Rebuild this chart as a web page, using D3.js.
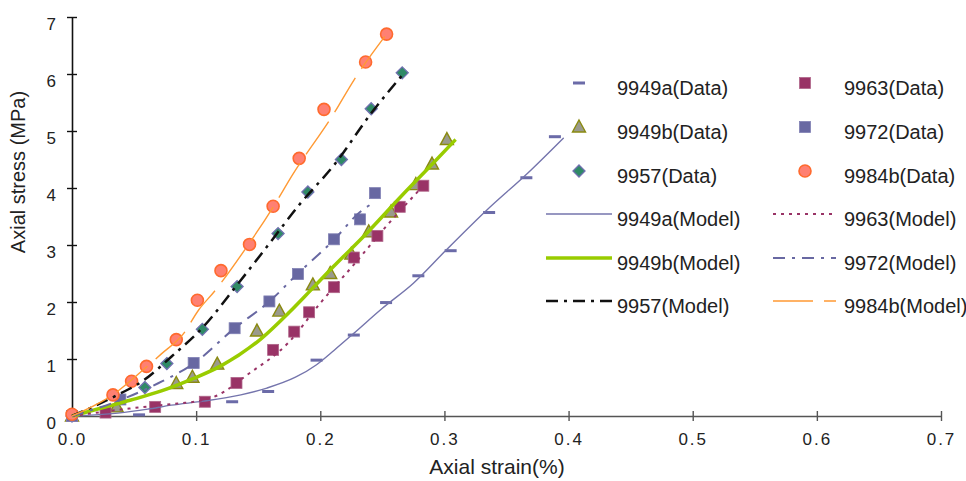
<!DOCTYPE html>
<html>
<head>
<meta charset="utf-8">
<script src="https://cdn.jsdelivr.net/npm/d3@7"></script>
<style>
  body { margin: 0; background: #fff; }
  svg { display: block; font-family: "Liberation Sans", Arial, sans-serif; }
</style>
</head>
<body>
<svg id="chart" width="966" height="481"></svg>
<script>
// Tick values.
const xTicks = [0, 0.1, 0.2, 0.3, 0.4, 0.5, 0.6, 0.7];
const yTicks = [0, 1, 2, 3, 4, 5, 6, 7];

// Measured points: [axial strain (%), axial stress (MPa)].
const data9949a = [[0, 0], [0.054, 0.02], [0.129, 0.25], [0.158, 0.43], [0.197, 0.98], [0.227, 1.42], [0.253, 1.99], [0.279, 2.46], [0.305, 2.90], [0.336, 3.57], [0.366, 4.18], [0.389, 4.90]];
const data9949b = [[0, 0], [0.036, 0.16], [0.084, 0.57], [0.097, 0.68], [0.117, 0.91], [0.149, 1.49], [0.167, 1.84], [0.194, 2.30], [0.208, 2.50], [0.225, 2.84], [0.239, 3.23], [0.257, 3.58], [0.277, 4.06], [0.290, 4.42], [0.302, 4.85]];
const data9957 = [[0, 0], [0.0587, 0.50], [0.0764, 0.92], [0.105, 1.52], [0.133, 2.27], [0.166, 3.20], [0.190, 3.93], [0.217, 4.50], [0.241, 5.39], [0.266, 6.02]];
const data9963 = [[0, 0], [0.027, 0.06], [0.067, 0.16], [0.107, 0.25], [0.1325, 0.58], [0.162, 1.16], [0.179, 1.48], [0.191, 1.82], [0.211, 2.26], [0.227, 2.78], [0.246, 3.16], [0.264, 3.67], [0.283, 4.04]];
const data9972 = [[0, 0], [0.039, 0.29], [0.098, 0.93], [0.131, 1.54], [0.159, 2.01], [0.182, 2.49], [0.211, 3.10], [0.232, 3.45], [0.244, 3.91]];
const data9984b = [[0, 0.03], [0.033, 0.37], [0.048, 0.61], [0.060, 0.87], [0.084, 1.34], [0.101, 2.03], [0.120, 2.55], [0.143, 3.01], [0.162, 3.68], [0.183, 4.52], [0.203, 5.38], [0.2365, 6.21], [0.2534, 6.70]];

// Model curves.
const model9949a = [[0, 0], [0.037, 0.05], [0.061, 0.12], [0.080, 0.19], [0.106, 0.26], [0.136, 0.37], [0.157, 0.49], [0.180, 0.68], [0.197, 0.90], [0.211, 1.15], [0.227, 1.45], [0.250, 1.89], [0.275, 2.33], [0.300, 2.88], [0.334, 3.61], [0.367, 4.26], [0.396, 4.88]];
const model9949b = [[0, 0], [0.023, 0.135], [0.0475, 0.28], [0.072, 0.44], [0.098, 0.66], [0.120, 0.88], [0.152, 1.35], [0.175, 1.82], [0.192, 2.20], [0.211, 2.63], [0.238, 3.22], [0.265, 3.85], [0.292, 4.46], [0.309, 4.85]];
const model9957 = [[0, 0], [0.034, 0.34], [0.058, 0.63], [0.080, 1.04], [0.106, 1.57], [0.133, 2.30], [0.157, 2.97], [0.184, 3.73], [0.211, 4.40], [0.241, 5.31], [0.268, 6.03]];
const model9963 = [[0, 0], [0.046, 0.13], [0.085, 0.22], [0.104, 0.27], [0.117, 0.36], [0.141, 0.72], [0.174, 1.28], [0.200, 1.98], [0.228, 2.68], [0.254, 3.35], [0.283, 4.04]];
const model9972 = [[0, 0], [0.039, 0.28], [0.069, 0.57], [0.098, 0.92], [0.131, 1.54], [0.159, 2.01], [0.182, 2.50], [0.211, 3.09], [0.232, 3.58], [0.242, 3.73]];
const model9984b = [[0, 0], [0.034, 0.39], [0.060, 0.86], [0.072, 1.09], [0.090, 1.45], [0.102, 1.86], [0.1145, 2.18], [0.139, 2.91], [0.163, 3.70], [0.1776, 4.23], [0.211, 5.31], [0.227, 5.89], [0.2534, 6.70]];

// Series styles (legend order: column by column).
const dataSeries = [
  { name: '9949a(Data)', values: data9949a, shape: 'dash', fill: '#6b6ba8', stroke: 'none', col: 0, row: 0 },
  { name: '9949b(Data)', values: data9949b, shape: 'triangle', fill: '#9a9a8c', stroke: '#8a8a10', col: 0, row: 1 },
  { name: '9957(Data)', values: data9957, shape: 'diamond', fill: '#2f8a66', stroke: '#7070b0', col: 0, row: 2 },
  { name: '9963(Data)', values: data9963, shape: 'square', fill: '#993366', stroke: '#b0668a', col: 1, row: 0 },
  { name: '9972(Data)', values: data9972, shape: 'square', fill: '#6868a2', stroke: '#8080b4', col: 1, row: 1 },
  { name: '9984b(Data)', values: data9984b, shape: 'circle', fill: '#ff8072', stroke: '#ff6a2e', col: 1, row: 2 }
];
const modelSeries = [
  { name: '9949a(Model)', values: model9949a, color: '#7474ac', width: 1.4, dash: null, col: 0, row: 3 },
  { name: '9949b(Model)', values: model9949b, color: '#99cc00', width: 3.5, dash: null, col: 0, row: 4 },
  { name: '9957(Model)', values: model9957, color: '#111111', width: 2.5, dash: '12,6,3,6', col: 0, row: 5 },
  { name: '9963(Model)', values: model9963, color: '#993366', width: 2, dash: '3,5', col: 1, row: 3 },
  { name: '9972(Model)', values: model9972, color: '#6868a2', width: 2, dash: '12,7,3,7', col: 1, row: 4 },
  { name: '9984b(Model)', values: model9984b, color: '#ff9933', width: 1.4, dash: '40,11', col: 1, row: 5 }
];

const svg = d3.select('#chart');

// Scales.
const xScale = d3.scaleLinear().domain([0, 0.7]).range([72, 941]);
const yScale = d3.scaleLinear().domain([0, 7]).range([416, 17]);

// X-Axis.
const xAxis = svg.append('g')
  .attr('transform', `translate(0,${yScale(0)})`)
  .call(d3.axisBottom(xScale).tickValues(xTicks).tickFormat(d3.format('.1f')).tickSizeOuter(0));
xAxis.select('.domain').attr('stroke', '#555').attr('stroke-width', 1.6);
xAxis.selectAll('.tick line').attr('y1', -5).attr('y2', 5).attr('stroke', '#555').attr('stroke-width', 1.4);
xAxis.selectAll('.tick text')
  .attr('y', 17)
  .attr('font-size', 17)
  .attr('letter-spacing', 2)
  .attr('fill', '#222')
  .attr('font-family', '"Liberation Sans", Arial, sans-serif');

// Y-Axis.
const yAxis = svg.append('g')
  .attr('transform', `translate(${xScale(0)},0)`)
  .call(d3.axisLeft(yScale).tickValues(yTicks).tickFormat(d3.format('d')).tickSizeOuter(0));
yAxis.select('.domain').attr('stroke', '#111').attr('stroke-width', 1.6);
yAxis.selectAll('.tick line').attr('x1', -5).attr('x2', 5).attr('stroke', '#111').attr('stroke-width', 1.4);
yAxis.selectAll('.tick text')
  .attr('x', -16)
  .attr('dy', '0.75em')
  .attr('font-size', 17)
  .attr('fill', '#222')
  .attr('font-family', '"Liberation Sans", Arial, sans-serif');

// Axis titles.
svg.append('text')
  .attr('x', 497).attr('y', 474)
  .attr('text-anchor', 'middle')
  .attr('font-size', 21)
  .attr('fill', '#222')
  .text('Axial strain(%)');
svg.append('text')
  .attr('transform', 'translate(25,172) rotate(-90)')
  .attr('text-anchor', 'middle')
  .attr('font-size', 20)
  .attr('fill', '#222')
  .text('Axial stress (MPa)');

// Marker drawing.
const drawMarker = (g, s) => {
  if (s.shape === 'dash') {
    g.append('rect').attr('x', -6).attr('y', -1.5).attr('width', 12).attr('height', 3).attr('fill', s.fill);
  } else if (s.shape === 'square') {
    g.append('rect').attr('x', -5.5).attr('y', -5.5).attr('width', 11).attr('height', 11)
      .attr('fill', s.fill).attr('stroke', s.stroke).attr('stroke-width', 0.8);
  } else if (s.shape === 'triangle') {
    g.append('path').attr('d', 'M0,-7L6.5,5L-6.5,5Z')
      .attr('fill', s.fill).attr('stroke', s.stroke).attr('stroke-width', 1.4);
  } else if (s.shape === 'diamond') {
    g.append('path').attr('d', 'M0,-6L6,0L0,6L-6,0Z')
      .attr('fill', s.fill).attr('stroke', s.stroke).attr('stroke-width', 1.3);
  } else if (s.shape === 'circle') {
    g.append('circle').attr('r', 6).attr('fill', s.fill).attr('stroke', s.stroke).attr('stroke-width', 1.6);
  }
};

// Data markers.
dataSeries.forEach(s => {
  svg.append('g').selectAll('g')
    .data(s.values)
    .join('g')
    .attr('transform', d => `translate(${xScale(d[0])},${yScale(d[1])})`)
    .each(function () { drawMarker(d3.select(this), s); });
});

// Model lines.
const line = d3.line().x(d => xScale(d[0])).y(d => yScale(d[1])).curve(d3.curveMonotoneX);
modelSeries.forEach(s => {
  svg.append('path')
    .datum(s.values)
    .attr('fill', 'none')
    .attr('stroke', s.color)
    .attr('stroke-width', s.width)
    .attr('stroke-dasharray', s.dash)
    .attr('d', line);
});

// Legend.
const legendCols = [{ lineX1: 546, lineX2: 612, markX: 579, textX: 617 }, { lineX1: 773, lineX2: 836, markX: 805, textX: 844 }];
const legendRowY = [83, 127, 171, 214, 258, 301];

dataSeries.forEach(s => {
  const c = legendCols[s.col], y = legendRowY[s.row];
  const g = svg.append('g').attr('transform', `translate(${c.markX},${y})`);
  drawMarker(g, s);
  svg.append('text').attr('x', c.textX).attr('y', y + 12).attr('font-size', 20).attr('fill', '#222').text(s.name);
});
modelSeries.forEach(s => {
  const c = legendCols[s.col], y = legendRowY[s.row];
  svg.append('line')
    .attr('x1', c.lineX1).attr('x2', c.lineX2).attr('y1', y).attr('y2', y)
    .attr('stroke', s.color).attr('stroke-width', s.width).attr('stroke-dasharray', s.dash);
  svg.append('text').attr('x', c.textX).attr('y', y + 12).attr('font-size', 20).attr('fill', '#222').text(s.name);
});
</script>
</body>
</html>
